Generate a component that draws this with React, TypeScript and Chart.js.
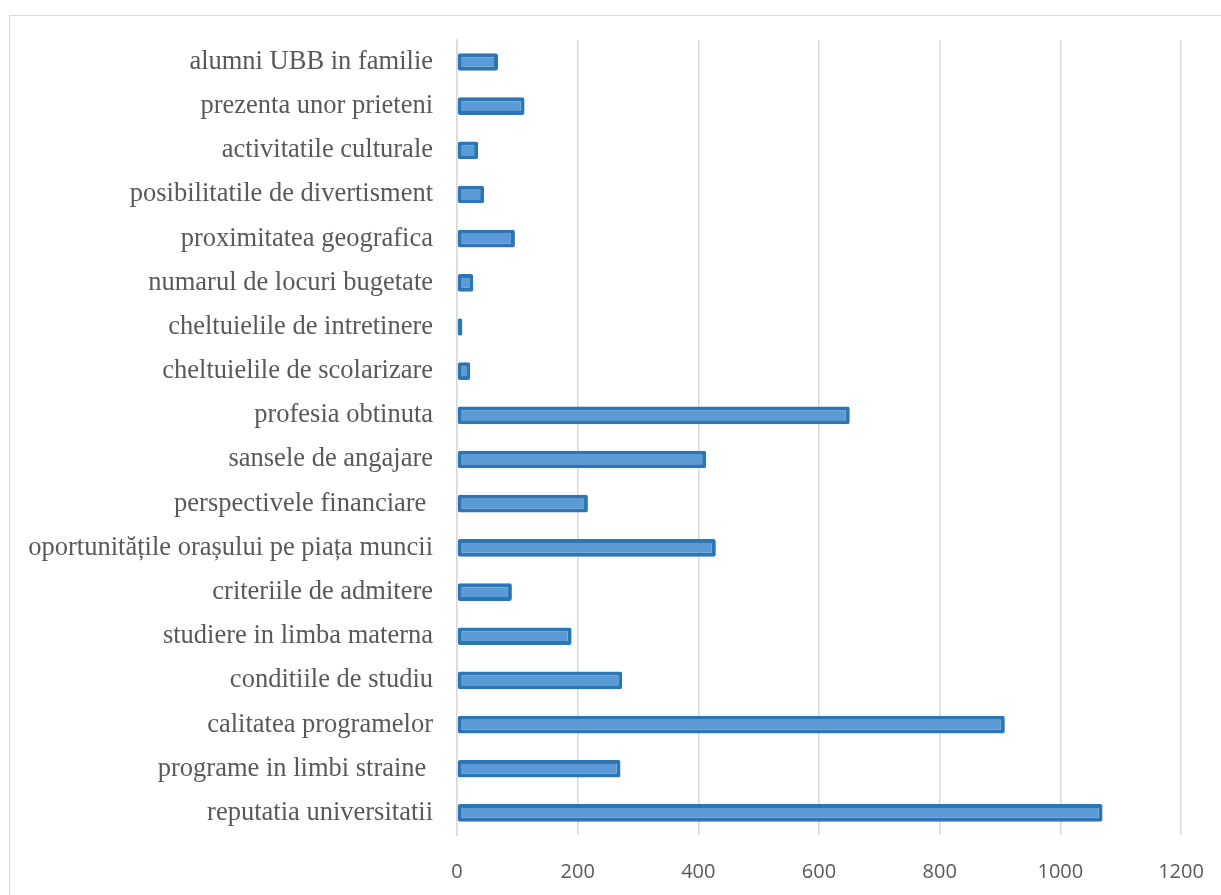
import React, { useEffect, useRef } from "react";
import { Chart, registerables } from "chart.js";

Chart.register(...registerables);

const categories = [
  "alumni UBB in familie",
  "prezenta unor prieteni",
  "activitatile culturale",
  "posibilitatile de divertisment",
  "proximitatea geografica",
  "numarul de locuri bugetate",
  "cheltuielile de intretinere",
  "cheltuielile de scolarizare",
  "profesia obtinuta",
  "sansele de angajare",
  "perspectivele financiare ",
  "oportunitățile orașului pe piața muncii",
  "criteriile de admitere",
  "studiere in limba materna",
  "conditiile de studiu",
  "calitatea programelor",
  "programe in limbi straine ",
  "reputatia universitatii",
];

const values = [68, 112, 35, 45, 96, 27, 9, 22, 651, 413, 217, 429, 91, 190, 274, 908, 271, 1070];

const xTicks = [0, 200, 400, 600, 800, 1000, 1200];

export default function App() {
  const ref = useRef<HTMLCanvasElement | null>(null);

  useEffect(() => {
    const canvas = ref.current;
    if (!canvas) return;
    const chart = new Chart(canvas, {
      type: "bar",
      data: {
        labels: categories,
        datasets: [
          {
            data: values,
            backgroundColor: "#5B9BD5",
            borderColor: "#2E75B6",
            borderWidth: 4,
            borderSkipped: false,
            borderRadius: 2,
            barPercentage: 0.4,
            categoryPercentage: 1,
          },
        ],
      },
      options: {
        indexAxis: "y",
        animation: false,
        responsive: false,
        maintainAspectRatio: false,
        devicePixelRatio: 1,
        layout: { padding: { left: 0, right: 40, top: 36, bottom: 0 } },
        plugins: { legend: { display: false }, tooltip: { enabled: false } },
        scales: {
          x: {
            type: "linear",
            min: xTicks[0],
            max: xTicks[xTicks.length - 1],
            afterBuildTicks: (scale: any) => {
              scale.ticks = xTicks.map((v) => ({ value: v }));
            },
            afterFit: (scale: any) => {
              scale.height = 60;
              scale.paddingLeft = 0;
              scale.paddingRight = 0;
            },
            grid: { color: "#d9d9d9", lineWidth: 1.5, drawTicks: false },
            border: { display: false },
            ticks: {
              color: "#595959",
              padding: 25,
              callback: (v: any) => String(v),
              font: { family: "'Open Sans', 'Liberation Sans', sans-serif", size: 20 },
            },
          },
          y: {
            type: "category",
            afterFit: (scale: any) => {
              scale.width = 457;
            },
            grid: { display: false, drawTicks: false },
            border: { display: true, color: "#d9d9d9", width: 1.5 },
            ticks: {
              color: "#595959",
              padding: 24,
              autoSkip: false,
              font: { family: "'Liberation Serif', 'Times New Roman', serif", size: 26.5 },
            },
          },
        },
      },
    });
    return () => chart.destroy();
  }, []);

  return (
    <div style={{ position: "fixed", left: 0, top: 0, width: 1221, height: 895, background: "#fff" }}>
      <div
        style={{
          position: "absolute",
          left: 9,
          top: 15,
          width: 1230,
          height: 900,
          border: "1.5px solid #d9d9d9",
          boxSizing: "border-box",
        }}
      />
      <canvas ref={ref} width={1221} height={895} style={{ position: "absolute", left: 0, top: 0 }} />
    </div>
  );
}
